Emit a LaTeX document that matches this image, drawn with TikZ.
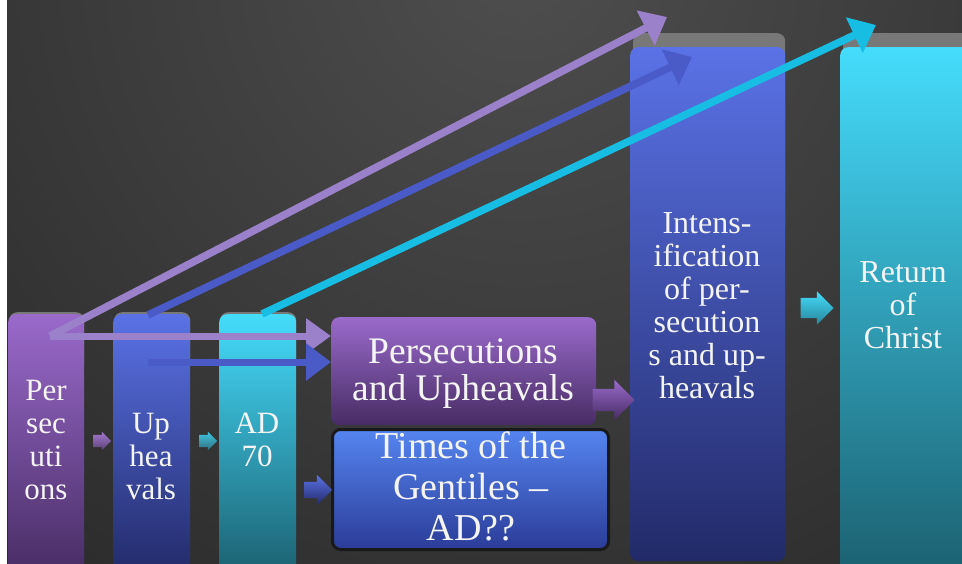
\documentclass[tikz,border=0pt]{standalone}
\usepackage{fontspec}
\setmainfont{Liberation Serif}
\usetikzlibrary{arrows.meta,shapes.arrows}
\newcommand\setfs[2]{\fontsize{#1}{#2}\selectfont}
\definecolor{bgdark}{HTML}{262626}
\definecolor{bglight}{HTML}{4E4E4E}
\definecolor{purT}{HTML}{9A6ACB}
\definecolor{purB}{HTML}{472C64}
\definecolor{bluT}{HTML}{5A72E6}
\definecolor{bluB}{HTML}{222A68}
\definecolor{cyaT}{HTML}{45DCFC}
\definecolor{cyaB}{HTML}{1B6070}
\definecolor{tgT}{HTML}{5585F0}
\definecolor{tgB}{HTML}{2B3C98}
\definecolor{shadowgray}{HTML}{787878}
\definecolor{lpur}{HTML}{9B80CA}
\definecolor{lblu}{HTML}{4A5BC8}
\definecolor{lcya}{HTML}{17BDE2}
\definecolor{txtw}{HTML}{F4F4F4}
\tikzset{
  box/.style={rounded corners=8pt, inner sep=0pt, anchor=north west},
  shadowbox/.style={fill=shadowgray, rounded corners=8pt, inner sep=0pt, anchor=north west},
  txt/.style={text=txtw, align=center, inner sep=0pt, anchor=base},
  longarrow/.style={line width=7.5pt, -{Triangle[length=24pt,width=38pt]}},
  blk/.style={single arrow, inner xsep=0pt, draw=none, shape border rotate=0},
}
\begin{document}
\begin{tikzpicture}[x=1pt,y=-1pt]
\useasboundingbox (0,0) rectangle (962,563);
\fill[white] (0,0) rectangle (962,563);
\begin{scope}
\clip (7,0) rectangle (962,563);
\fill[bgdark] (7,0) rectangle (962,563);
\shade[inner color=bglight, outer color=bgdark] (520,-40) circle (900);
% shadows
\node[shadowbox, minimum width=75, minimum height=60] (s1) at (9,312) {};
\node[shadowbox, minimum width=76, minimum height=60] (s2) at (114,312) {};
\node[shadowbox, minimum width=76, minimum height=60] (s3) at (220,312) {};
\node[shadowbox, minimum width=152, minimum height=200] (sI) at (633,33) {};
\node[shadowbox, minimum width=140, minimum height=200] (sR) at (843,33) {};
% columns
\node[box, top color=purT, bottom color=purB, minimum width=76, minimum height=262] (b1) at (8,314) {};
\node[box, top color=bluT, bottom color=bluB, minimum width=77, minimum height=262] (b2) at (113,314) {};
\node[box, top color=cyaT, bottom color=cyaB, minimum width=77, minimum height=262] (b3) at (219,314) {};
\node[box, top color=purT, bottom color=purB, minimum width=265, minimum height=108] (bPU) at (331,317) {};
\node[box, top color=tgT, bottom color=tgB, draw=black!90, line width=3pt, minimum width=276, minimum height=120] (bTG) at (331,428) {};
\node[box, top color=bluT, bottom color=bluB, minimum width=155, minimum height=514] (bI) at (630,47) {};
\node[box, top color=cyaT, bottom color=cyaB, minimum width=140, minimum height=530] (bR) at (840,47) {};
% texts (base = last line's baseline)
\node[txt, font=\setfs{31}{33}] (t1) at (46,499) {Per\\sec\\uti\\ons};
\node[txt, font=\setfs{31}{33}] (t2) at (151,499) {Up\\hea\\vals};
\node[txt, font=\setfs{31}{33}] (t3) at (257,466) {AD\\70};
\node[txt, font=\setfs{37.5}{37}] (tPU) at (463,400) {Persecutions\\and Upheavals};
\node[txt, font=\setfs{38}{41}] (tTG) at (471,540) {Times of the\\Gentiles –\\AD??};
\node[txt, font=\setfs{32}{33}] (tI) at (707,398) {Intens-\\ification\\of per-\\secution\\s and up-\\heavals};
\node[txt, font=\setfs{32}{33}] (tR) at (903,348) {Return\\of\\Christ};
% block arrows
\node[blk, top color=purT!90, bottom color=purB!90, minimum height=18pt, inner ysep=6pt, single arrow head extend=3pt] (a12) at (99,441) {};
\node[blk, top color=cyaT!90!black, bottom color=cyaB!90, minimum height=18pt, inner ysep=6pt, single arrow head extend=3pt] (a23) at (205,441) {};
\node[blk, top color=bluT, bottom color=bluB, minimum height=28pt, inner ysep=8pt, single arrow head extend=7pt] (a3T) at (314,490) {};
\node[blk, top color=purT, bottom color=purB, minimum height=42pt, inner ysep=11pt, single arrow head extend=9pt] (aPU) at (608,400) {};
\node[blk, top color=cyaT, bottom color=cyaB!70!cyaT, minimum height=33pt, inner ysep=10pt, single arrow head extend=6.5pt] (aIR) at (812,308) {};
% long arrows
\coordinate (pS) at (50,336);
\coordinate (bS) at (148,315);
\coordinate (bH) at (148,362);
\coordinate (cS) at (262,314);
\coordinate (pT) at (667,17);
\coordinate (bT) at (692,57);
\coordinate (cT) at (876,25);
\coordinate (pH) at (331,336);
\coordinate (bHT) at (331,362);
\draw[longarrow, lpur] (pS) -- (pT);
\draw[longarrow, lblu] (bS) -- (bT);
\draw[longarrow, lcya] (cS) -- (cT);
\draw[line width=7pt, lpur, -{Triangle[length=25pt,width=34pt]}] (pS) -- (pH);
\draw[line width=7pt, lblu, -{Triangle[length=25pt,width=36pt]}] (bH) -- (bHT);
\end{scope}
\end{tikzpicture}
\end{document}
